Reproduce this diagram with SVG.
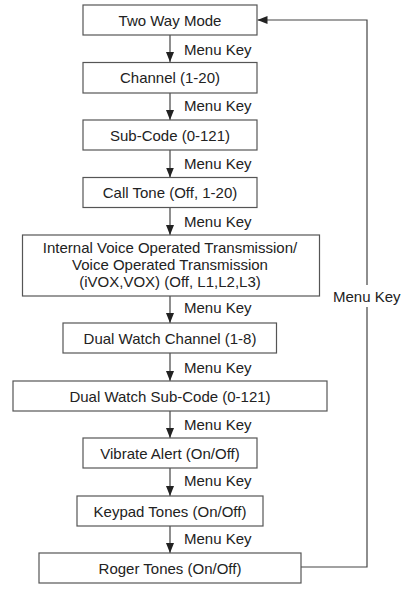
<svg xmlns="http://www.w3.org/2000/svg" width="407" height="593" viewBox="0 0 407 593">
<defs>
<marker id="ah" viewBox="0 0 10 8" refX="10" refY="4" markerWidth="10" markerHeight="8" markerUnits="userSpaceOnUse" orient="auto">
<path d="M0,0 L10,4 L0,8 Z" fill="#222"/>
</marker>
<style>
.box{fill:#fff;stroke:#555;stroke-width:1.2}
.t{font-family:"Liberation Sans",Arial,sans-serif;font-size:15px;fill:#222;text-anchor:middle}
.lbl{font-family:"Liberation Sans",Arial,sans-serif;font-size:15px;fill:#222}
.c{fill:none;stroke:#444;stroke-width:1.2}
</style>
</defs>
<rect width="407" height="593" fill="#fff"/>
<g id="connectors">
<line class="c" x1="170" y1="35" x2="170" y2="62" marker-end="url(#ah)"/>
<line class="c" x1="170" y1="93" x2="170" y2="120" marker-end="url(#ah)"/>
<line class="c" x1="170" y1="150" x2="170" y2="177.5" marker-end="url(#ah)"/>
<line class="c" x1="170" y1="207.5" x2="170" y2="235" marker-end="url(#ah)"/>
<line class="c" x1="170" y1="296" x2="170" y2="323" marker-end="url(#ah)"/>
<line class="c" x1="170" y1="353" x2="170" y2="381" marker-end="url(#ah)"/>
<line class="c" x1="170" y1="411" x2="170" y2="438" marker-end="url(#ah)"/>
<line class="c" x1="170" y1="468" x2="170" y2="496" marker-end="url(#ah)"/>
<line class="c" x1="170" y1="526" x2="170" y2="553" marker-end="url(#ah)"/>
<polyline class="c" points="301,567 367,567 367,20 257.5,20" marker-end="url(#ah)"/>
<text class="lbl" x="184" y="55">Menu Key</text>
<text class="lbl" x="184" y="110.5">Menu Key</text>
<text class="lbl" x="184" y="169">Menu Key</text>
<text class="lbl" x="184" y="227">Menu Key</text>
<text class="lbl" x="184" y="313">Menu Key</text>
<text class="lbl" x="184" y="372.5">Menu Key</text>
<text class="lbl" x="184" y="430">Menu Key</text>
<text class="lbl" x="184" y="486">Menu Key</text>
<text class="lbl" x="184" y="544">Menu Key</text>
<rect x="331" y="285" width="73" height="22" fill="#fff"/>
<text class="lbl" x="333" y="302">Menu Key</text>
</g>
<g id="n1"><rect class="box" x="83" y="5" width="174" height="30"/><text class="t" x="170" y="25.5">Two Way Mode</text></g>
<g id="n2"><rect class="box" x="83" y="62.5" width="174" height="30.5"/><text class="t" x="170" y="83">Channel (1-20)</text></g>
<g id="n3"><rect class="box" x="83" y="120" width="174" height="30"/><text class="t" x="170" y="140.5">Sub-Code (0-121)</text></g>
<g id="n4"><rect class="box" x="83" y="177.5" width="174" height="30"/><text class="t" x="170" y="198">Call Tone (Off, 1-20)</text></g>
<g id="n5"><rect class="box" x="22.5" y="235" width="297" height="61"/>
<text class="t" x="170" y="253">Internal Voice Operated Transmission/</text>
<text class="t" x="170" y="270">Voice Operated Transmission</text>
<text class="t" x="170" y="287">(iVOX,VOX) (Off, L1,L2,L3)</text></g>
<g id="n6"><rect class="box" x="63" y="323" width="213.5" height="30"/><text class="t" x="170" y="343.5">Dual Watch Channel (1-8)</text></g>
<g id="n7"><rect class="box" x="13" y="381" width="314" height="30"/><text class="t" x="170" y="401.5">Dual Watch Sub-Code (0-121)</text></g>
<g id="n8"><rect class="box" x="83" y="438" width="174" height="30"/><text class="t" x="170" y="458.5">Vibrate Alert (On/Off)</text></g>
<g id="n9"><rect class="box" x="77" y="496" width="186" height="30"/><text class="t" x="170" y="516.5">Keypad Tones (On/Off)</text></g>
<g id="n10"><rect class="box" x="39" y="553" width="262" height="30"/><text class="t" x="170" y="573.5">Roger Tones (On/Off)</text></g>
</svg>
